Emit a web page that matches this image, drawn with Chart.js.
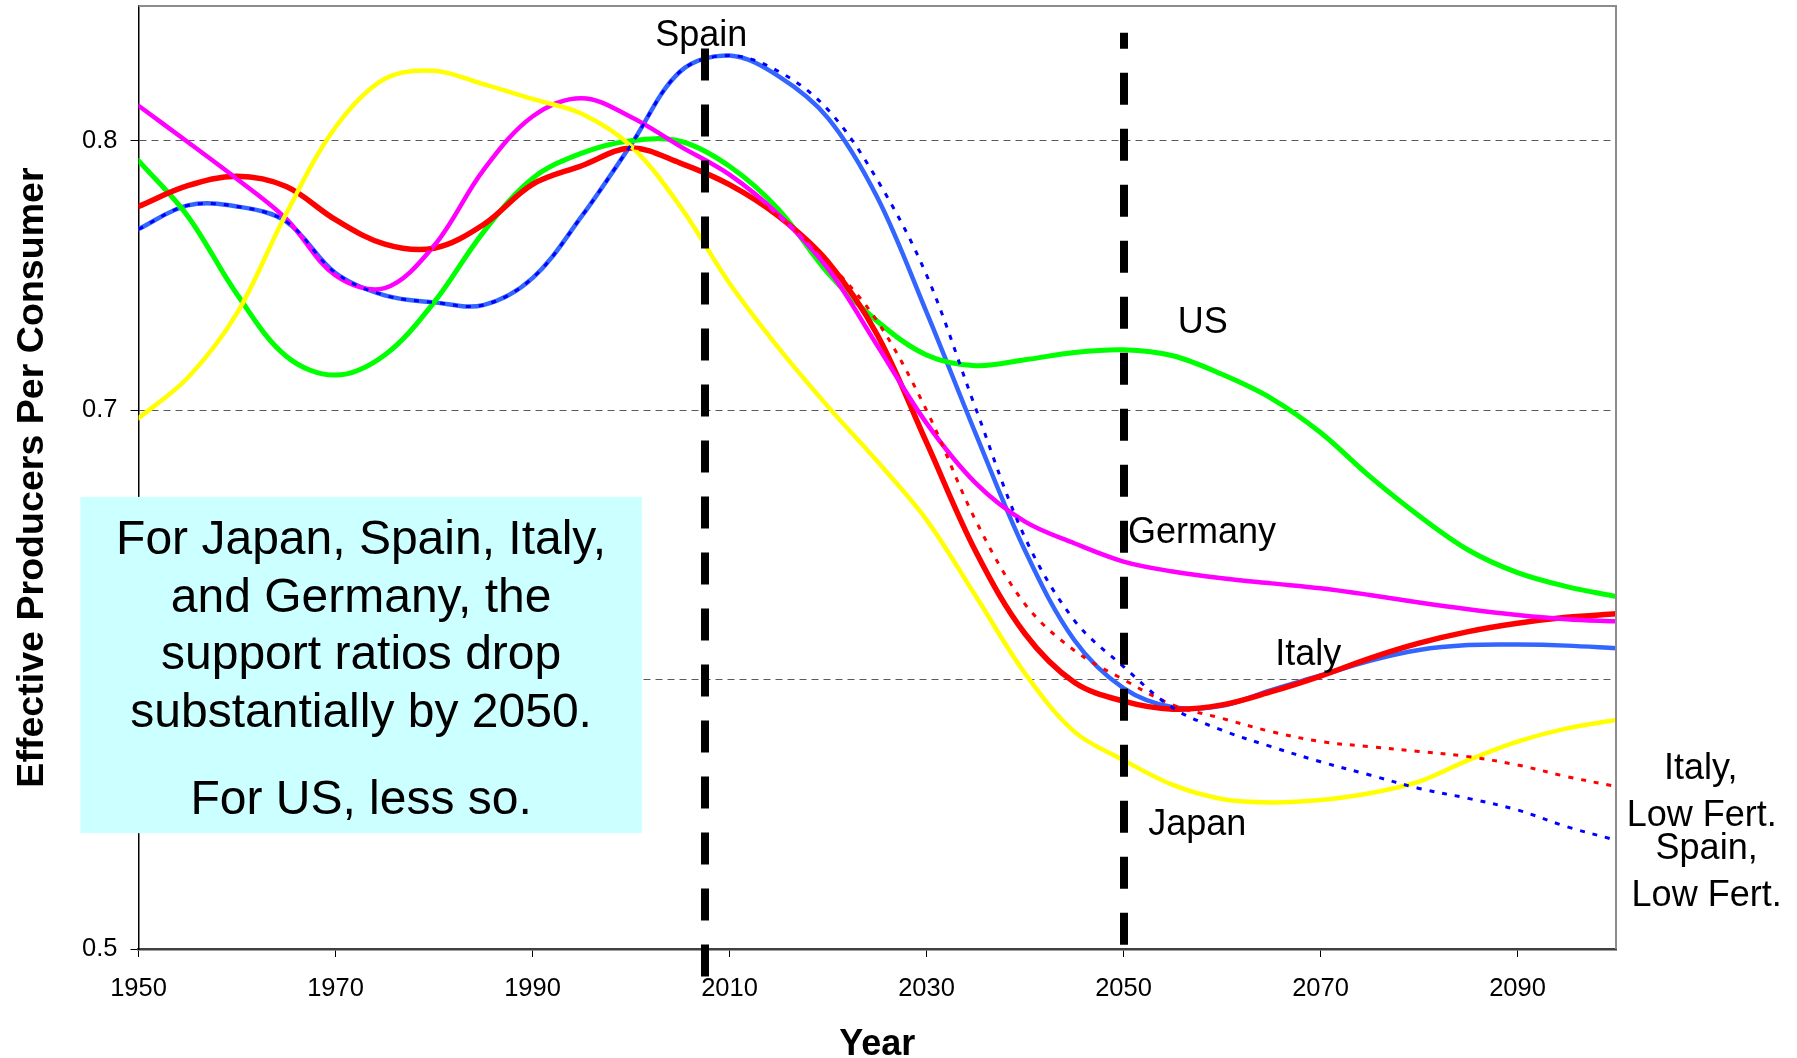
<!DOCTYPE html>
<html>
<head>
<meta charset="utf-8">
<title>Effective Producers Per Consumer</title>
<script src="https://cdn.jsdelivr.net/npm/chart.js@4/dist/chart.umd.min.js"></script>
<style>
  html, body { margin: 0; padding: 0; background: #ffffff; }
  #wrap { width: 1797px; height: 1058px; position: relative; }
  canvas { display: block; }
</style>
</head>
<body>
<div id="wrap"><canvas id="chart" width="1797" height="1058"></canvas></div>
<script>
// Years of the projection (five-year steps)
const years = [1950, 1955, 1960, 1965, 1970, 1975, 1980, 1985, 1990, 1995,
               2000, 2005, 2010, 2015, 2020, 2025, 2030, 2035, 2040, 2045,
               2050, 2055, 2060, 2065, 2070, 2075, 2080, 2085, 2090, 2095, 2100];

// Effective producers per consumer, by country
const japan   = [0.697, 0.712, 0.736, 0.773, 0.805, 0.823, 0.826, 0.821, 0.8155, 0.810,
                 0.798, 0.7756, 0.7471, 0.723, 0.7013, 0.681, 0.6593, 0.631, 0.6023, 0.5807,
                 0.5701, 0.5609, 0.5557, 0.5544, 0.5553, 0.5578, 0.5621, 0.5701, 0.577, 0.5819, 0.585];
const us      = [0.7926, 0.772, 0.743, 0.720, 0.713, 0.7205, 0.740, 0.766, 0.786, 0.7954,
                 0.800, 0.7998, 0.7905, 0.7744, 0.7509, 0.733, 0.7205, 0.7165, 0.7187, 0.7214,
                 0.7224, 0.7202, 0.7133, 0.7044, 0.6917, 0.6754, 0.6608, 0.6481, 0.6397, 0.6345, 0.6308];
const germany = [0.813, 0.7995, 0.7858, 0.771, 0.750, 0.7453, 0.761, 0.789, 0.809, 0.8158,
                 0.8088, 0.7979, 0.7874, 0.7725, 0.7525, 0.724, 0.6952, 0.6729, 0.6586, 0.6506,
                 0.6438, 0.6401, 0.6376, 0.6357, 0.6339, 0.6314, 0.6286, 0.6261, 0.624, 0.6224, 0.6216];
const italy   = [0.7756, 0.7833, 0.7868, 0.783, 0.7707, 0.7616, 0.7601, 0.7688, 0.7838, 0.7907,
                 0.7973, 0.7917, 0.7837, 0.7719, 0.755, 0.728, 0.688, 0.6475, 0.617, 0.599,
                 0.592, 0.589, 0.5906, 0.5955, 0.6013, 0.6079, 0.6135, 0.6178, 0.6209, 0.6231, 0.6244];
const spain   = [0.7672, 0.776, 0.7756, 0.770, 0.7509, 0.7426, 0.740, 0.739, 0.749, 0.772,
                 0.7985, 0.8257, 0.8316, 0.8239, 0.8084, 0.779, 0.7364, 0.6912, 0.6479, 0.6147,
                 0.5968, 0.5897, 0.5903, 0.5961, 0.6015, 0.607, 0.611, 0.6128, 0.613, 0.6126, 0.6116];

// Low-fertility variants
const italyLowFert = [0.7756, 0.7833, 0.7868, 0.783, 0.7707, 0.7616, 0.7601, 0.7688, 0.7838, 0.7907,
                      0.7973, 0.7917, 0.7837, 0.7719, 0.755, 0.733, 0.700, 0.659, 0.628, 0.6108,
                      0.600, 0.5906, 0.5856, 0.5807, 0.577, 0.5751, 0.5733, 0.5714, 0.5683, 0.564, 0.5603];
const spainLowFert = [0.7672, 0.776, 0.7756, 0.770, 0.7509, 0.7426, 0.740, 0.739, 0.749, 0.772,
                      0.7985, 0.8257, 0.8316, 0.8257, 0.8115, 0.7855, 0.7502, 0.7006, 0.6527, 0.622,
                      0.6048, 0.5895, 0.5812, 0.5751, 0.5695, 0.5646, 0.5596, 0.5559, 0.5516, 0.5454, 0.5404];

// Axis settings and tick labels
const xMin = 1950, xMax = 2100;
const yMin = 0.5, yMax = 0.85;
const xTickValues = [1950, 1970, 1990, 2010, 2030, 2050, 2070, 2090];
const yTickValues = [0.5, 0.6, 0.7, 0.8];

// Vertical reference lines (year, top value, bottom value, dash phase)
const markerYears   = [2007.5, 2050];
const markerTops    = [0.8342, 0.8401];
const markerBottoms = [0.4862, 0.5015];
const markerPhase   = [0, 16];

// Text labels placed in data coordinates
const labelTexts  = ['Spain', 'US', 'Germany', 'Italy', 'Japan',
                     'Italy,', 'Low Fert.', 'Spain,', 'Low Fert.'];
const labelYears  = [2002.45, 2055.5, 2050.45, 2065.4, 2052.5, 2108.6, 2108.7, 2109.2, 2109.2];
const labelValues = [0.8352, 0.7287, 0.6507, 0.6054, 0.5423, 0.5631, 0.5456, 0.5334, 0.5159];
const labelAlign  = ['left', 'left', 'left', 'left', 'left', 'center', 'center', 'center', 'center'];

// Note box
const noteLines = ['For Japan, Spain, Italy,', 'and Germany, the', 'support ratios drop',
                   'substantially by 2050.', 'For US, less so.'];
const noteBox = { x1: 1944.1, x2: 2001.1, yTop: 0.6678, yBottom: 0.543 };

const FONT = '"Liberation Sans", Arial, Helvetica, sans-serif';
Chart.defaults.font.family = FONT;
Chart.defaults.color = '#000';

const pts = arr => years.map((yr, i) => ({ x: yr, y: arr[i] }));

const lineDs = (label, arr, color, width, dash) => ({
  label,
  data: pts(arr),
  borderColor: color,
  backgroundColor: color,
  borderWidth: width,
  borderDash: dash || [],
  borderCapStyle: dash ? 'butt' : 'round',
  borderJoinStyle: 'round',
  pointRadius: 0,
  pointHoverRadius: 0,
  fill: false,
  tension: 0.35
});

const overlay = {
  id: 'overlay',
  afterDatasetsDraw(chart) {
    const { ctx, chartArea: a, scales: { x, y } } = chart;
    ctx.save();
    // top and right frame
    ctx.strokeStyle = '#8c8c8c';
    ctx.lineWidth = 2;
    ctx.beginPath();
    ctx.moveTo(a.left, a.top);
    ctx.lineTo(a.right, a.top);
    ctx.lineTo(a.right, a.bottom);
    ctx.stroke();
    // heavy dashed year markers
    ctx.strokeStyle = '#000';
    ctx.lineWidth = 8;
    ctx.lineCap = 'butt';
    ctx.setLineDash([32, 24]);
    markerYears.forEach((yr, i) => {
      const px = Math.round(x.getPixelForValue(yr));
      ctx.lineDashOffset = markerPhase[i];
      ctx.beginPath();
      ctx.moveTo(px, y.getPixelForValue(markerTops[i]));
      ctx.lineTo(px, y.getPixelForValue(markerBottoms[i]));
      ctx.stroke();
    });
    ctx.restore();
  },
  afterDraw(chart) {
    const { ctx, scales: { x, y } } = chart;
    ctx.save();
    // note box
    const bx1 = x.getPixelForValue(noteBox.x1), bx2 = x.getPixelForValue(noteBox.x2);
    const by1 = y.getPixelForValue(noteBox.yTop), by2 = y.getPixelForValue(noteBox.yBottom);
    ctx.fillStyle = '#ccffff';
    ctx.fillRect(bx1, by1, bx2 - bx1, by2 - by1);
    ctx.fillStyle = '#000';
    ctx.font = '48px ' + FONT;
    ctx.textAlign = 'center';
    ctx.textBaseline = 'alphabetic';
    const baselines = [57, 115, 172, 230, 317];
    noteLines.forEach((t, i) => ctx.fillText(t, (bx1 + bx2) / 2, by1 + baselines[i]));
    // series labels
    ctx.font = '36px ' + FONT;
    labelTexts.forEach((t, i) => {
      ctx.textAlign = labelAlign[i];
      ctx.fillText(t, x.getPixelForValue(labelYears[i]), y.getPixelForValue(labelValues[i]));
    });
    ctx.restore();
  }
};

new Chart(document.getElementById('chart'), {
  type: 'line',
  data: {
    datasets: [
      lineDs('Spain, Low Fert.', spainLowFert, '#0000ff', 3, [5, 8]),
      lineDs('Italy, Low Fert.', italyLowFert, '#ff0000', 3, [5, 8]),
      lineDs('Japan', japan, '#ffff00', 4.5),
      lineDs('Germany', germany, '#ff00ff', 4.5),
      lineDs('Italy', italy, '#ff0000', 5.5),
      lineDs('US', us, '#00ff00', 5),
      lineDs('Spain', spain, '#3366ff', 4.5)
    ]
  },
  options: {
    responsive: false,
    animation: false,
    events: [],
    layout: { padding: { left: 0, top: 6, right: 181, bottom: 0 } },
    plugins: { legend: { display: false }, tooltip: { enabled: false } },
    scales: {
      x: {
        type: 'linear',
        min: xMin,
        max: xMax,
        afterBuildTicks: s => { s.ticks = xTickValues.map(v => ({ value: v })); },
        afterFit: s => { s.height = 109; s.paddingLeft = 0; s.paddingRight = 0; },
        ticks: {
          maxRotation: 0,
          autoSkip: false,
          padding: 17,
          font: { size: 25.5 },
          color: '#000',
          callback: v => String(v)
        },
        grid: { drawOnChartArea: false, drawTicks: true, tickLength: 8, tickColor: '#000', tickWidth: 1 },
        border: { display: true, color: '#404040', width: 2.5 },
        title: {
          display: true,
          text: 'Year',
          color: '#000',
          font: { size: 36, weight: 'bold', lineHeight: 0.7 },
          padding: { top: 0, bottom: 0.5 }
        }
      },
      y: {
        type: 'linear',
        min: yMin,
        max: yMax,
        afterBuildTicks: s => { s.ticks = yTickValues.map(v => ({ value: v })); },
        afterFit: s => { s.width = 138.5; s.paddingTop = 0; s.paddingBottom = 0; },
        ticks: {
          padding: 13,
          font: { size: 25.5 },
          color: '#000',
          callback: v => v.toFixed(1)
        },
        grid: {
          drawTicks: true,
          tickLength: 8,
          tickColor: '#000',
          tickWidth: 1,
          lineWidth: 1,
          color: c => (c.tick && Math.abs(c.tick.value - yMin) < 1e-6) ? 'rgba(0,0,0,0)' : '#5a5a5a'
        },
        border: { display: true, color: '#000', width: 1.5, dash: [7, 5] },
        title: {
          display: true,
          text: 'Effective Producers Per Consumer',
          color: '#000',
          font: { size: 37.6, weight: 'bold', lineHeight: 1 },
          padding: { top: 13.8, bottom: 0 }
        }
      }
    }
  },
  plugins: [overlay]
});
</script>
</body>
</html>
